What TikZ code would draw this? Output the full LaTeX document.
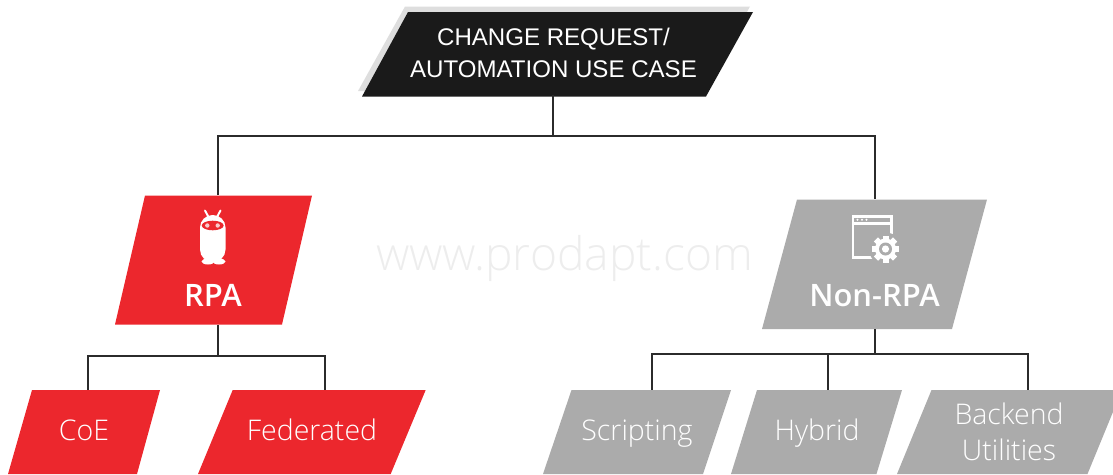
\documentclass[tikz,border=0pt]{standalone}
\usepackage{fontspec}
\setmainfont{Liberation Sans}
\newfontfamily\thinfont{Open Sans Light}
\newfontfamily\boldishfont{Open Sans Semibold}
\definecolor{rpared}{HTML}{EC272D}
\definecolor{slabgray}{HTML}{ABABAB}
\definecolor{slabblack}{HTML}{1A1A1A}
\definecolor{wirecol}{HTML}{2B2B2B}
\tikzset{
  slab/.style={inner sep=0pt, text=white, align=center},
  wire/.style={draw=wirecol, line width=1.25pt},
  leaf/.style={slab, minimum height=1.68cm, text height=9.9pt, text depth=0pt, font=\thinfont\fontsize{16.2}{20.4}\selectfont},
  head/.style={anchor=base, text=white, font=\boldishfont\fontsize{17.6}{20}\selectfont}
}
\begin{document}
\begin{tikzpicture}[x=0.02cm,y=-0.02cm]
\useasboundingbox (0,0) rectangle (1113,474);
% slanted boxes
\fill [black!13] (405,6.5) -- (750,6.5) -- (703,91) -- (358,91) -- cycle;
\fill [slabblack] (408,12) -- (753,12) -- (706,96.5) -- (362,96.5) -- cycle;
\fill [rpared] (145,195.5) -- (312,195.5) -- (282,324.5) -- (115,324.5) -- cycle;
\fill [slabgray] (797,199.5) -- (987,199.5) -- (952,329) -- (762,329) -- cycle;
\fill [rpared] (32,390) -- (160,390) -- (137,474) -- (8,474) -- cycle;
\fill [rpared] (232.7,390) -- (425.7,390) -- (390.7,474) -- (198,474) -- cycle;
\fill [slabgray] (571.5,390) -- (731,390) -- (703,474) -- (543,474) -- cycle;
\fill [slabgray] (757,390) -- (902,390) -- (876.5,474) -- (731,474) -- cycle;
\fill [slabgray] (931.5,390) -- (1122,390) -- (1087.5,474) -- (897,474) -- cycle;
% nodes on the boxes
\node [slab, minimum width=7.82cm, minimum height=1.69cm, font=\fontsize{13.7}{18.14}\selectfont] (change) at (553.5,52.5) {CHANGE REQUEST/\\AUTOMATION USE CASE};
\node [slab, minimum width=3.94cm, minimum height=2.58cm] (rpa) at (213.5,260) {};
\node [slab, minimum width=4.5cm, minimum height=2.59cm] (nonrpa) at (874.5,264.25) {};
\node [leaf, minimum width=3.04cm] (coe) at (84,432) {CoE};
\node [leaf, minimum width=4.55cm] (federated) at (312,432) {Federated};
\node [leaf, minimum width=3.76cm] (scripting) at (637,432) {Scripting};
\node [leaf, minimum width=3.42cm] (hybrid) at (817,432) {Hybrid};
\node [leaf, minimum width=4.5cm, text height=32.5pt] (backend) at (1009,432) {Backend\\Utilities};
% connectors
\coordinate (hubtop) at (553,136);
\coordinate (hubrpa) at (218,356);
\coordinate (hubnon) at (875,354);
\draw [wire] (change.south -| hubtop) -- (hubtop);
\draw [wire] (rpa.north -| hubrpa) |- (hubtop) -| (nonrpa.north -| hubnon);
\draw [wire] (rpa.south -| hubrpa) -- (hubrpa);
\draw [wire] (coe.north -| 88,0) |- (hubrpa);
\draw [wire] (federated.north -| 325,0) |- (hubrpa);
\draw [wire] (nonrpa.south -| hubnon) -- (hubnon);
\draw [wire] (scripting.north -| 652,0) |- (hubnon);
\draw [wire] (hybrid.north -| 828,0) |- (hubnon);
\draw [wire] (backend.north -| 1028,0) |- (hubnon);
% watermark
\node [anchor=base, text=black!7, font=\thinfont\fontsize{26.3}{30}\selectfont] (site) at (564.5,270) {www.prodapt.com};
% labels
\node [head] (rpatext) at (213,306) {RPA};
\node [head] (nonrpatext) at (874.5,306.5) {Non-RPA};
% robot
\draw [white, line width=1.1pt, line cap=round] (205,210.5) -- (208.5,217);
\draw [white, line width=1.1pt, line cap=round] (220.5,210.5) -- (217,217);
\fill [white, rounded corners=0.25cm] (200,215) rectangle (225.5,262);
\fill [white] (208,261.5) ellipse (6.5 and 3);
\fill [white] (219,261.5) ellipse (6.5 and 3);
\fill [rpared] (212.7,225.5) ellipse (11 and 4.8);
\fill [white!75!rpared] (207.3,225.5) circle (2.2);
\fill [white!75!rpared] (217.7,225.5) circle (2.2);
% window and gear
\draw [white, line width=1.4pt] (853,216.5) rectangle (891.5,257.5);
\draw [white, line width=1.4pt] (853,223.5) -- (891.5,223.5);
\foreach \dotx in {857.5,862,866.5} \fill [white] (\dotx,219.7) circle (1.1);
\fill [slabgray] (885.5,249) circle (16.5);
\fill [white] (885.5,249) circle (10.5);
\foreach \teeth in {0,45,...,315} \fill [white, shift={(885.5,249)}, rotate=\teeth] (-3,-13.5) rectangle (3,0);
\fill [slabgray] (885.5,249) circle (6.5);
\fill [white] (885.5,249) circle (3.6);
\end{tikzpicture}
\end{document}
